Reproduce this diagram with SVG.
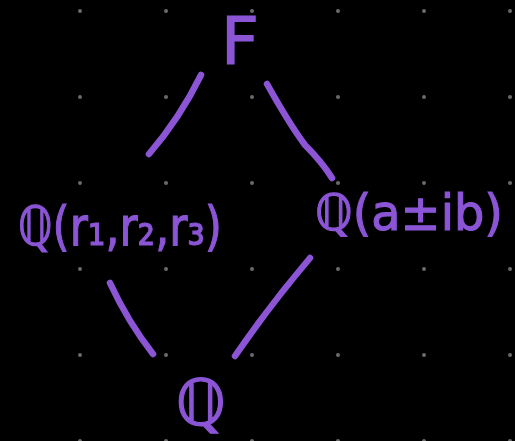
<svg xmlns="http://www.w3.org/2000/svg" width="515" height="441" viewBox="0 0 515 441">
<defs>
<style>
.dot{fill:#6a6a6a}
.lbl{fill:#8b55d6;stroke:#8b55d6;stroke-width:1.2;font-family:"DejaVu Sans","Liberation Sans",sans-serif}
.edge{fill:none;stroke:#8b55d6;stroke-width:6.5;stroke-linecap:round;stroke-linejoin:round}
</style>
<pattern id="grid" x="0" y="0" width="86" height="86" patternUnits="userSpaceOnUse" patternTransform="translate(80 11)">
<circle class="dot" cx="0" cy="0" r="2"/><circle class="dot" cx="86" cy="0" r="2"/><circle class="dot" cx="0" cy="86" r="2"/><circle class="dot" cx="86" cy="86" r="2"/>
</pattern>
</defs>
<rect width="515" height="441" fill="#000"/>
<rect width="515" height="441" fill="url(#grid)"/>
<g id="connectors">
<path class="edge" d="M201,75 Q180,118 149,154"/>
<path class="edge" d="M267,84 Q290,125 305,145 Q322,162 332,178"/>
<path class="edge" d="M110,283 Q128,322 153,354"/>
<path class="edge" d="M310,258 Q270,305 235,356"/>
</g>
<g id="node-F">
<text class="lbl" x="240" y="64" font-size="66" text-anchor="middle">F</text>
</g>
<g id="node-Qr">
<text class="lbl" x="18" y="245" font-size="54" textLength="204" lengthAdjust="spacingAndGlyphs">ℚ(r₁,r₂,r₃)</text>
</g>
<g id="node-Qab">
<text class="lbl" x="315" y="230" font-size="50" textLength="188" lengthAdjust="spacingAndGlyphs">ℚ(a±ib)</text>
</g>
<g id="node-Q">
<text class="lbl" x="201" y="425" font-size="64" text-anchor="middle">ℚ</text>
</g>
</svg>
